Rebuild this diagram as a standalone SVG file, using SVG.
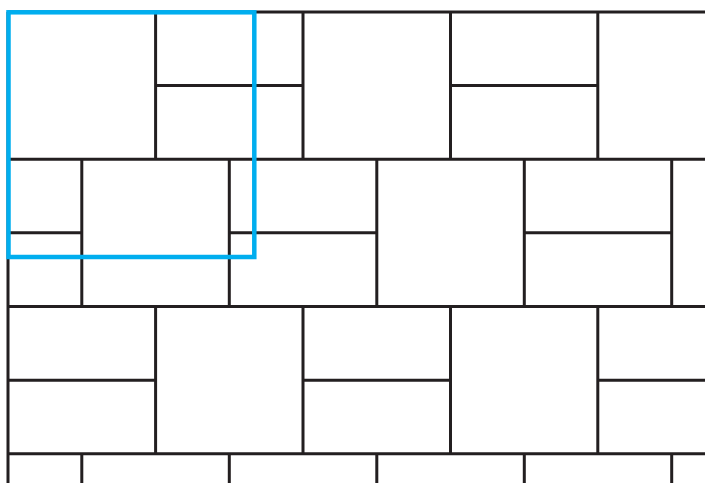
<svg xmlns="http://www.w3.org/2000/svg" width="705" height="483" viewBox="0 0 705 483">
<style>
.l{stroke:#231f20;stroke-width:3;fill:none}
.h{stroke:#00aeef;stroke-width:4.5;fill:none}
</style>
<rect width="705" height="483" fill="#fff"/>
<g id="grid" class="l">
<path d="M8 12H705M8 159.2H705M8 306.5H705M8 453.7H705"/>
<path d="M8 12V483"/>
<path d="M155.6 12V159.2M303 12V159.2M450.5 12V159.2M597.8 12V159.2"/>
<path d="M155.6 85.5H303M450.5 85.5H597.8"/>
<path d="M81.8 159.2V306.5M229.3 159.2V306.5M376.8 159.2V306.5M524.3 159.2V306.5M671.7 159.2V306.5"/>
<path d="M8 232.7H81.8M229.3 232.7H376.8M524.3 232.7H671.7"/>
<path d="M155.6 306.5V453.7M303 306.5V453.7M450.5 306.5V453.7M597.8 306.5V453.7"/>
<path d="M8 380.2H155.6M303 380.2H450.5M597.8 380.2H705"/>
<path d="M81.8 453.7V483M229.3 453.7V483M376.8 453.7V483M524.3 453.7V483M671.7 453.7V483"/>
</g>
<rect id="highlight" class="h" x="8.5" y="12.3" width="245.8" height="244.7"/>
</svg>
